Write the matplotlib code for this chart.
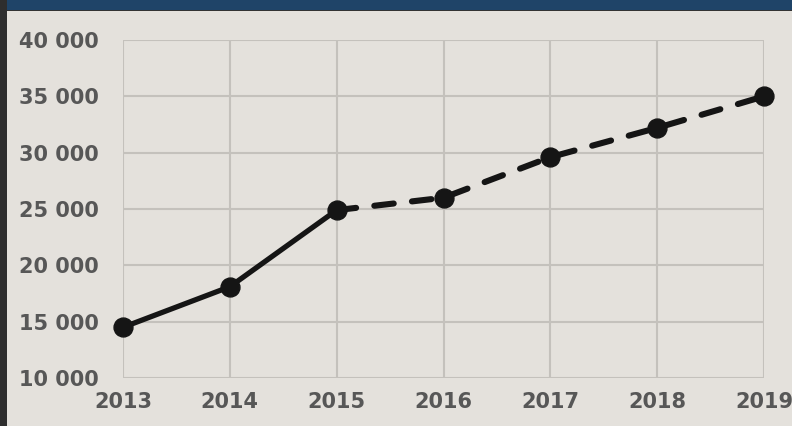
import matplotlib
matplotlib.use("Agg")
import matplotlib.pyplot as plt
from matplotlib.patches import Rectangle

years = [2013, 2014, 2015, 2016, 2017, 2018, 2019]
values = [14500, 18100, 24900, 26000, 29600, 32200, 35000]
solid_end = 2  # index of 2015
yticks = [10000, 15000, 20000, 25000, 30000, 35000, 40000]
ytick_labels = ["10 000", "15 000", "20 000", "25 000", "30 000", "35 000", "40 000"]

W, H = 792, 426
fig = plt.figure(figsize=(W / 100, H / 100), dpi=100)
bg = "#e4e1dc"
fig.patch.set_facecolor(bg)

# top bar and left border
fig.add_artist(Rectangle((0, 1 - 10 / H), 1, 10 / H, transform=fig.transFigure,
                         facecolor="#1f4468", edgecolor="none"))
fig.add_artist(Rectangle((0, 1 - 11 / H), 1, 1.2 / H, transform=fig.transFigure,
                         facecolor="#333333", edgecolor="none"))
fig.add_artist(Rectangle((0, 0), 7 / W, 1, transform=fig.transFigure,
                         facecolor="#2e2e2e", edgecolor="none"))

left, right = 123 / W, 764 / W
top, bottom = 1 - 40 / H, 1 - 378 / H
ax = fig.add_axes([left, bottom, right - left, top - bottom])
ax.set_facecolor(bg)
ax.set_xlim(2013, 2019)
ax.set_ylim(10000, 40000)
ax.set_xticks(years)
ax.set_yticks(yticks)
ax.set_yticklabels(ytick_labels)
ax.set_xticklabels([str(y) for y in years])
ax.grid(True, color="#c4c1bc", linewidth=1.5)
ax.set_axisbelow(True)
for s in ax.spines.values():
    s.set_visible(False)
ax.tick_params(length=0, labelsize=15, labelcolor="#575757")
for lab in ax.get_xticklabels() + ax.get_yticklabels():
    lab.set_fontfamily("DejaVu Sans")
    lab.set_fontweight("bold")
ax.tick_params(axis="x", pad=10)
for lab in ax.get_yticklabels():
    lab.set_horizontalalignment("left")
    lab.set_x(-99 / 641)

line_color = "#151515"
ax.plot(years[:solid_end + 1], values[:solid_end + 1], color=line_color, lw=3.8,
        solid_capstyle="round", clip_on=False, zorder=3)
ax.plot(years[solid_end:], values[solid_end:], color=line_color, lw=4.4,
        linestyle=(0, (3.2, 3.0)), dash_capstyle="round", clip_on=False, zorder=3)
ax.scatter(years, values, s=185, color=line_color, zorder=4, clip_on=False)

fig.savefig("out.png", dpi=100, facecolor=bg)
